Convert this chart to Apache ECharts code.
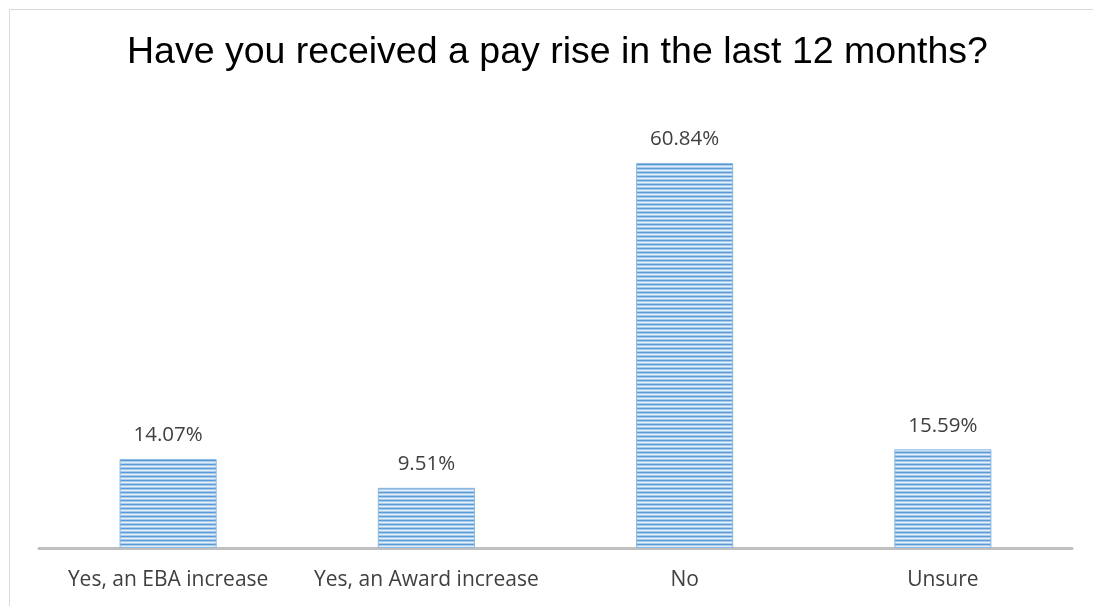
<!DOCTYPE html>
<html>
<head>
<meta charset="utf-8">
<style>
  html, body { margin: 0; padding: 0; background: #ffffff; }
  #chart { width: 1093px; height: 606px; }
</style>
<script src="https://cdn.jsdelivr.net/npm/echarts@6/dist/echarts.min.js"></script>
</head>
<body>
<div id="chart"></div>
<script>
const titleText = 'Have you received a pay rise in the last 12 months?';
const categories = ['Yes, an EBA increase', 'Yes, an Award increase', 'No', 'Unsure'];
const values = [14.07, 9.51, 60.84, 15.59];

// horizontal stripe pattern for bars
const pat = document.createElement('canvas');
pat.width = 4; pat.height = 4;
const pctx = pat.getContext('2d');
const rows = ['#5b9bd5', '#a9cbec', '#e3eef9', '#a9cbec'];
rows.forEach((c, i) => { pctx.fillStyle = c; pctx.fillRect(0, i, 4, 1); });

const labelFont = '"Open Sans", sans-serif';

const chart = echarts.init(document.getElementById('chart'), null, { renderer: 'canvas' });
chart.setOption({
  animation: false,
  backgroundColor: '#ffffff',
  title: {
    text: titleText,
    left: 122,
    top: 29,
    textStyle: { fontFamily: 'Liberation Sans, Arial, sans-serif', fontSize: 37.5, fontWeight: 'normal', color: '#000000' }
  },
  graphic: [
    { type: 'line', shape: { x1: 9.5, y1: 9.5, x2: 1093, y2: 9.5 }, style: { stroke: '#d9d9d9', lineWidth: 1 }, silent: true },
    { type: 'line', shape: { x1: 9.5, y1: 9.5, x2: 9.5, y2: 606 }, style: { stroke: '#d9d9d9', lineWidth: 1 }, silent: true }
  ],
  grid: { left: 39, right: 21, top: 105, bottom: 58, containLabel: false },
  xAxis: {
    type: 'category',
    data: categories,
    axisTick: { show: false },
    axisLine: { lineStyle: { color: '#bfbfbf', width: 3 } },
    axisLabel: { interval: 0, color: '#404040', fontSize: 21, fontFamily: labelFont, margin: 22 }
  },
  yAxis: {
    type: 'value',
    min: 0, max: 70,
    show: false,
    splitLine: { show: false }
  },
  series: [{
    type: 'bar',
    data: values,
    barWidth: '37.6%',
    itemStyle: {
      color: { image: pat, repeat: 'repeat' },
      borderColor: '#8db8e2',
      borderWidth: 1
    },
    label: {
      show: true,
      position: 'top',
      distance: 13,
      formatter: p => p.value.toFixed(2) + '%',
      color: '#404040',
      fontSize: 20.5,
      fontFamily: labelFont
    }
  }]
});
</script>
</body>
</html>
